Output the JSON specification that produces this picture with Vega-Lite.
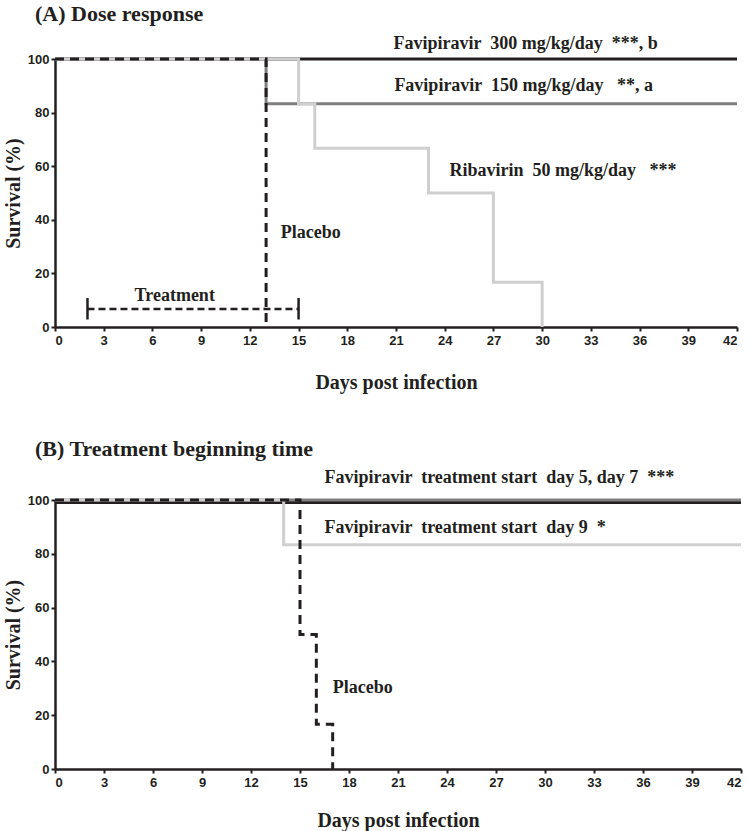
{
  "$schema": "https://vega.github.io/schema/vega-lite/v6.json",
  "padding": {"left": 3, "top": 2, "right": 2, "bottom": 2},
  "background": "white",
  "spacing": 173,
  "bounds": "flush",
  "config": {
    "view": {"stroke": null},
    "font": "Liberation Serif",
    "axis": {
      "labelFont": "Liberation Sans", "labelFontWeight": "bold", "labelFontSize": 13, "labelColor": "#231f20",
      "titleFont": "Liberation Serif", "titleFontWeight": "bold", "titleFontSize": 20, "titleColor": "#231f20",
      "domainColor": "#231f20", "domainWidth": 2.5, "tickColor": "#231f20", "tickWidth": 2, "tickSize": 4,
      "grid": false, "labelPadding": 3
    },
    "title": {"font": "Liberation Serif", "fontSize": 22, "fontWeight": "bold", "anchor": "start", "frame": "group", "color": "#231f20", "dx": -20}
  },
  "datasets": {
    "aLines": [
      {"series": "F300", "day": 0, "surv": 100},
      {"series": "F300", "day": 42, "surv": 100},
      {"series": "F150", "day": 0, "surv": 100},
      {"series": "F150", "day": 13, "surv": 83.33},
      {"series": "F150", "day": 42, "surv": 83.33},
      {"series": "Rib", "day": 0, "surv": 100},
      {"series": "Rib", "day": 15, "surv": 83.33},
      {"series": "Rib", "day": 16, "surv": 66.67},
      {"series": "Rib", "day": 23, "surv": 50},
      {"series": "Rib", "day": 27, "surv": 16.67},
      {"series": "Rib", "day": 30, "surv": 0},
      {"series": "Placebo", "day": 0, "surv": 100},
      {"series": "Placebo", "day": 13, "surv": 0}
    ],
    "aTreat": [{"start": 2, "end": 15, "level": 6.7}],
    "aCaps": [{"day": 2, "lo": 2.8, "hi": 10.8}, {"day": 15, "lo": 2.8, "hi": 10.8}],
    "aLabels": [
      {"label": "Favipiravir \u00a0300 mg/kg/day \u00a0***, b", "day": 20.85, "surv": 105.6},
      {"label": "Favipiravir \u00a0150 mg/kg/day \u00a0\u00a0**, a", "day": 20.9, "surv": 89.9},
      {"label": "Ribavirin \u00a050 mg/kg/day \u00a0\u00a0***", "day": 24.3, "surv": 58.2},
      {"label": "Placebo", "day": 13.9, "surv": 35},
      {"label": "Treatment", "day": 4.9, "surv": 11.5}
    ],
    "bLines": [
      {"series": "D7", "day": 0, "surv": 99.1},
      {"series": "D7", "day": 42, "surv": 99.1},
      {"series": "D5", "day": 0, "surv": 100},
      {"series": "D5", "day": 42, "surv": 100},
      {"series": "D9", "day": 0, "surv": 100},
      {"series": "D9", "day": 14, "surv": 83.33},
      {"series": "D9", "day": 42, "surv": 83.33},
      {"series": "Placebo", "day": 0, "surv": 100},
      {"series": "Placebo", "day": 15, "surv": 50},
      {"series": "Placebo", "day": 16, "surv": 16.67},
      {"series": "Placebo", "day": 17, "surv": 0}
    ],
    "bLabels": [
      {"label": "Favipiravir \u00a0treatment start \u00a0day 5, day 7 \u00a0***", "day": 16.5, "surv": 108.2},
      {"label": "Favipiravir \u00a0treatment start \u00a0day 9 \u00a0*", "day": 16.5, "surv": 89.6},
      {"label": "Placebo", "day": 17.0, "surv": 30}
    ]
  },
  "vconcat": [
    {
      "width": 682, "height": 268,
      "title": {"text": "(A) Dose response", "offset": 9},
      "layer": [
        {
          "data": {"name": "aLines"},
          "mark": {"type": "line", "interpolate": "step-after", "strokeWidth": 3},
          "encoding": {
            "x": {"field": "day", "type": "quantitative", "scale": {"domain": [0, 42], "nice": false},
                  "axis": {"values": [0,3,6,9,12,15,18,21,24,27,30,33,36,39,42], "title": "Days post infection", "titlePadding": 25}},
            "y": {"field": "surv", "type": "quantitative", "scale": {"domain": [0, 100], "nice": false},
                  "axis": {"values": [0,20,40,60,80,100], "title": "Survival  (%)", "titlePadding": 4, "labelPadding": 2}},
            "color": {"field": "series", "type": "nominal", "legend": null,
                      "scale": {"domain": ["F300","F150","Rib","Placebo"], "range": ["#231f20","#7f7f7f","#cfcfcf","#231f20"]}},
            "strokeDash": {"field": "series", "type": "nominal", "legend": null,
                      "scale": {"domain": ["F300","F150","Rib","Placebo"], "range": [[1,0],[1,0],[1,0],[9,6]]}}
          }
        },
        {
          "data": {"name": "aTreat"},
          "mark": {"type": "rule", "strokeDash": [7,4], "strokeWidth": 2.5, "color": "#231f20"},
          "encoding": {
            "x": {"field": "start", "type": "quantitative"},
            "x2": {"field": "end"},
            "y": {"field": "level", "type": "quantitative"}
          }
        },
        {
          "data": {"name": "aCaps"},
          "mark": {"type": "rule", "strokeWidth": 2.5, "color": "#231f20"},
          "encoding": {
            "x": {"field": "day", "type": "quantitative"},
            "y": {"field": "lo", "type": "quantitative"},
            "y2": {"field": "hi"}
          }
        },
        {
          "data": {"name": "aLabels"},
          "mark": {"type": "text", "font": "Liberation Serif", "fontWeight": "bold", "fontSize": 18, "align": "left", "baseline": "middle", "color": "#231f20"},
          "encoding": {
            "x": {"field": "day", "type": "quantitative"},
            "y": {"field": "surv", "type": "quantitative"},
            "text": {"field": "label"}
          }
        }
      ]
    },
    {
      "width": 686, "height": 269,
      "title": {"text": "(B) Treatment beginning time", "offset": 8},
      "layer": [
        {
          "data": {"name": "bLines"},
          "mark": {"type": "line", "interpolate": "step-after", "strokeWidth": 3},
          "encoding": {
            "x": {"field": "day", "type": "quantitative", "scale": {"domain": [0, 42], "nice": false},
                  "axis": {"values": [0,3,6,9,12,15,18,21,24,27,30,33,36,39,42], "title": "Days post infection", "titlePadding": 21}},
            "y": {"field": "surv", "type": "quantitative", "scale": {"domain": [0, 100], "nice": false},
                  "axis": {"values": [0,20,40,60,80,100], "title": "Survival  (%)", "titlePadding": 4, "labelPadding": 2}},
            "color": {"field": "series", "type": "nominal", "legend": null,
                      "scale": {"domain": ["D7","D5","D9","Placebo"], "range": ["#7f7f7f","#231f20","#cfcfcf","#231f20"]}},
            "strokeDash": {"field": "series", "type": "nominal", "legend": null,
                      "scale": {"domain": ["D7","D5","D9","Placebo"], "range": [[1,0],[1,0],[1,0],[9,6]]}}
          }
        },
        {
          "data": {"name": "bLabels"},
          "mark": {"type": "text", "font": "Liberation Serif", "fontWeight": "bold", "fontSize": 18, "align": "left", "baseline": "middle", "color": "#231f20"},
          "encoding": {
            "x": {"field": "day", "type": "quantitative"},
            "y": {"field": "surv", "type": "quantitative"},
            "text": {"field": "label"}
          }
        }
      ]
    }
  ]
}
